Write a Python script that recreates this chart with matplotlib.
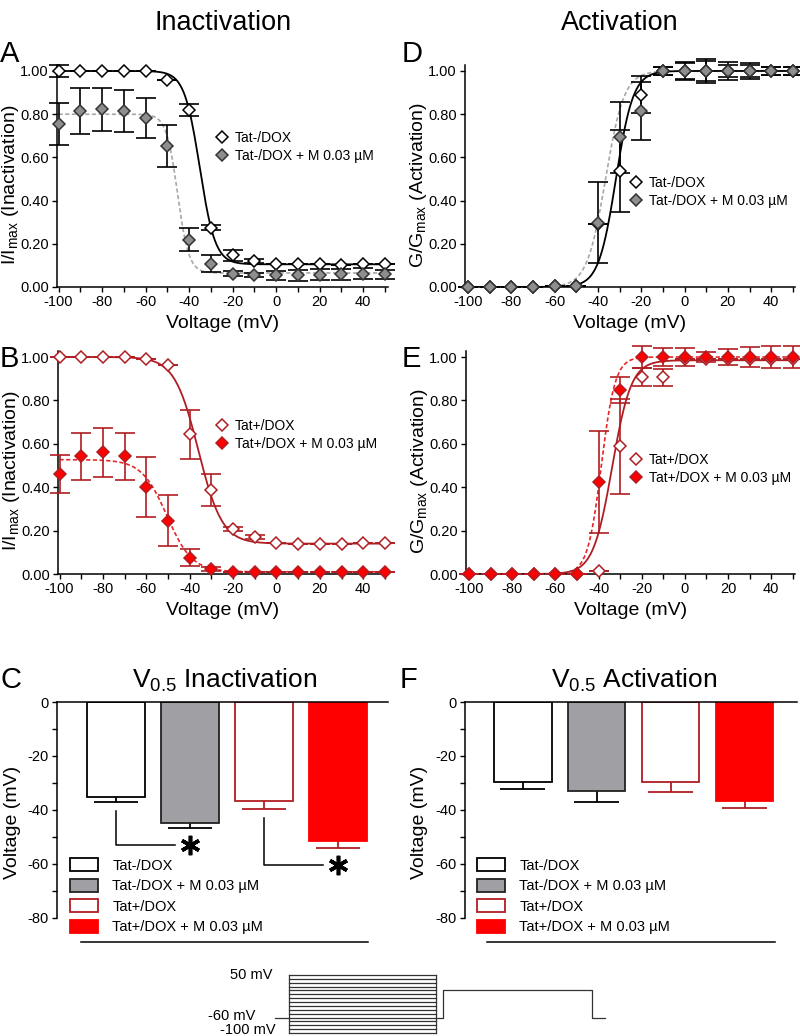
import numpy as np
import matplotlib
matplotlib.use("Agg")
import matplotlib.pyplot as plt
from matplotlib.ticker import MultipleLocator, FormatStrFormatter


plt.rcParams["font.family"] = ["Liberation Sans", "DejaVu Sans"]
plt.rcParams["axes.unicode_minus"] = False
plt.rcParams["mathtext.fontset"] = "custom"
plt.rcParams["mathtext.rm"] = "Liberation Sans"
plt.rcParams["mathtext.it"] = "Liberation Sans:italic"

W, H = 800, 1036

DARK_RED = "#b01e23"
RED = "#ff0000"
GREY_FILL = "#8e8e8e"
GREY_LINE = "#a8a8a8"

VOLTAGES = list(range(-100, 60, 10))

# A: inactivation, Tat-/DOX
inact_neg = [1.00, 1.00, 1.00, 1.00, 1.00, 0.96, 0.818, 0.275, 0.147, 0.12, 0.108, 0.105, 0.105, 0.10, 0.105, 0.105]
inact_neg_err = [0.03, 0, 0, 0, 0, 0, 0.028, 0.01, 0.025, 0.01, 0, 0, 0, 0, 0, 0]
inact_neg_m = [0.756, 0.815, 0.822, 0.815, 0.782, 0.653, 0.219, 0.108, 0.062, 0.057, 0.054, 0.054, 0.057, 0.059, 0.062, 0.059]
inact_neg_m_err = [0.097, 0.105, 0.10, 0.098, 0.094, 0.099, 0.053, 0.04, 0.01, 0.01, 0.02, 0.025, 0.025, 0.025, 0.025, 0.02]

# B: inactivation, Tat+/DOX
inact_pos = [1.00, 1.00, 1.00, 0.998, 0.99, 0.962, 0.645, 0.388, 0.206, 0.169, 0.142, 0.137, 0.137, 0.137, 0.142, 0.142]
inact_pos_err = [0, 0, 0, 0, 0, 0, 0.113, 0.075, 0.01, 0.01, 0, 0, 0, 0, 0, 0]
inact_pos_m = [0.46, 0.542, 0.56, 0.542, 0.40, 0.245, 0.075, 0.022, 0.01, 0.01, 0.01, 0.01, 0.01, 0.01, 0.01, 0.01]
inact_pos_m_err = [0.088, 0.109, 0.115, 0.11, 0.138, 0.118, 0.04, 0.01, 0, 0, 0, 0, 0, 0, 0, 0]

# D: activation, Tat-/DOX
act_neg = [0, 0, 0, 0, 0.005, 0.005, 0.29, 0.537, 0.89, 1.0, 1.0, 1.0, 1.0, 1.0, 1.0, 1.0]
act_neg_err = [0, 0, 0, 0, 0, 0, 0, 0.19, 0.085, 0.02, 0.04, 0.055, 0.04, 0.035, 0.02, 0.02]
act_neg_m = [0, 0, 0, 0, 0.005, 0.005, 0.298, 0.693, 0.816, 1.0, 1.0, 1.0, 1.0, 1.0, 1.0, 1.0]
act_neg_m_err = [0, 0, 0, 0, 0, 0, 0.187, 0.165, 0.135, 0.02, 0.037, 0.045, 0.03, 0.03, 0.02, 0.02]

# E: activation, Tat+/DOX
act_pos = [0, 0, 0, 0, 0, 0, 0.015, 0.588, 0.908, 0.906, 0.99, 0.99, 0.99, 0.99, 0.99, 0.99]
act_pos_err = [0, 0, 0, 0, 0, 0, 0, 0.22, 0.04, 0.04, 0, 0, 0, 0, 0, 0]
act_pos_m = [0, 0, 0, 0, 0, 0, 0.426, 0.849, 1.0, 1.0, 1.0, 1.0, 1.0, 1.0, 1.0, 1.0]
act_pos_m_err = [0, 0, 0, 0, 0, 0, 0.235, 0.06, 0.05, 0.04, 0.04, 0.025, 0.035, 0.045, 0.05, 0.05]

# Boltzmann fits: (top, bottom, V half, slope); negative slope = activation
fit_inact_neg = (1.0, 0.105, -35.1, 3.55)
fit_inact_neg_m = (0.80, 0.065, -45.3, 2.6)
fit_inact_pos = (1.0, 0.14, -36.0, 5.5)
fit_inact_pos_m = (0.527, 0.01, -50.5, 5.8)
fit_act_neg = (1.0, 0.0, -31.7, -4.0)
fit_act_neg_m = (1.0, 0.0, -36.5, -4.3)
fit_act_pos = (0.985, 0.0, -33.7, -4.4)
fit_act_pos_m = (1.0, 0.0, -38.7, -3.2)

# C / F: V0.5 bars
bar_labels = ["Tat-/DOX", "Tat-/DOX + M 0.03 µM", "Tat+/DOX", "Tat+/DOX + M 0.03 µM"]
v05_inact = [-35.2, -44.9, -36.7, -51.5]
v05_inact_err = [1.8, 1.8, 2.9, 2.5]
v05_act = [-29.6, -33.0, -29.6, -36.7]
v05_act_err = [2.6, 4.0, 3.7, 2.6]
sig_pairs = [(0, 1), (2, 3)]

bar_face = ["white", "#a0a0a4", "white", RED]
bar_edge = ["black", "#222222", DARK_RED, RED]
bar_err_col = ["black", "black", DARK_RED, DARK_RED]

# protocol
prepulse_mV = VOLTAGES
hold_mV = -60
test_mV = 10
protocol_t = [0, 14, 161, 168, 317, 330]


def px_rect(left, top, right, bottom):
    return [left / W, 1 - bottom / H, (right - left) / W, (bottom - top) / H]


def boltzmann(v, params):
    top, bottom, vh, k = params
    return bottom + (top - bottom) / (1 + np.exp((v - vh) / k))


def style_line_axes(ax, xlim, ylabel):
    ax.set_xlim(*xlim)
    ax.set_ylim(0, 1.03)
    for side in ["top", "right"]:
        ax.spines[side].set_visible(False)
    for side in ["left", "bottom"]:
        ax.spines[side].set_linewidth(1.1)
    ax.xaxis.set_major_locator(MultipleLocator(20))
    ax.xaxis.set_minor_locator(MultipleLocator(10))
    ax.yaxis.set_major_locator(MultipleLocator(0.2))
    ax.yaxis.set_major_formatter(FormatStrFormatter("%.2f"))
    ax.tick_params(which="both", direction="out", length=3.8, width=1, labelsize=10.5, pad=2)
    ax.set_xlabel("Voltage (mV)", fontsize=14)
    ax.set_ylabel(ylabel, fontsize=14)
    ax.xaxis.set_label_coords(0.5, -0.125)
    ax.yaxis.set_label_coords(-0.108, 0.46)


def line_panel(ax, series, fits, colors, labels, legend_xy):
    vfit = np.linspace(-100, 50, 400)
    (open_y, open_err), (fill_y, fill_err) = series
    line_col, fill_col, edge_col, dash_col, err_col = colors

    ax.plot(vfit, boltzmann(vfit, fits[1]), color=dash_col, lw=1.2, ls=(0, (2.5, 1.5)), zorder=2)
    ax.plot(vfit, boltzmann(vfit, fits[0]), color=line_col, lw=1.3, zorder=2)

    ax.errorbar(VOLTAGES, open_y, yerr=open_err, fmt="none", ecolor=err_col,
                elinewidth=1.2, capsize=7, capthick=1.2, zorder=3, clip_on=False)
    ax.errorbar(VOLTAGES, fill_y, yerr=fill_err, fmt="none", ecolor=err_col,
                elinewidth=1.2, capsize=7, capthick=1.2, zorder=3, clip_on=False)
    h1, = ax.plot(VOLTAGES, open_y, "D", ms=6.2, mfc="white", mec=line_col, mew=1.1,
                  ls="none", zorder=4, clip_on=False, label=labels[0])
    h2, = ax.plot(VOLTAGES, fill_y, "D", ms=6.2, mfc=fill_col, mec=edge_col, mew=1.1,
                  ls="none", zorder=5, clip_on=False, label=labels[1])

    leg = ax.legend(handles=[h1, h2], loc="upper left",
                    bbox_to_anchor=(legend_xy[0] / W, 1 - legend_xy[1] / H),
                    bbox_transform=fig.transFigure, frameon=False, fontsize=10,
                    handlelength=1.0, handletextpad=0.45, labelspacing=0.3,
                    borderpad=0, borderaxespad=0, numpoints=1)
    leg.set_zorder(6)


def bar_panel(ax, values, errors, xlim, title, title_x, sig=None, legend_x=0):
    pos = np.arange(len(values))
    bars = []
    for i, v in enumerate(values):
        b = ax.bar(pos[i], v, width=0.78, color=bar_face[i], edgecolor=bar_edge[i],
                   linewidth=1.3, label=bar_labels[i], zorder=2)
        bars.append(b)
        low = v - errors[i]
        ax.vlines(pos[i], low, v, color=bar_err_col[i], lw=1.3, zorder=1)
        ax.hlines(low, pos[i] - 0.3, pos[i] + 0.3, color=bar_err_col[i], lw=1.3, zorder=1)

    if sig is not None:
        for a, b in sig:
            y0 = values[a] - errors[a] - 3.5
            y1 = values[b] - errors[b] - 6.5
            ax.plot([pos[a], pos[a], pos[b] - 0.2], [y0, y1, y1], color="black", lw=1.1)
            ax.plot(pos[b], y1, marker=(6, 2, 0), ms=14, mew=2.6, color="black")

    ax.set_xlim(*xlim)
    ax.set_ylim(-89, 0)
    ax.spines["right"].set_visible(False)
    for side in ["left", "top", "bottom"]:
        ax.spines[side].set_linewidth(1.1)
    ax.spines["left"].set_bounds(-80, 0)
    ax.spines["bottom"].set_bounds(-0.48, 3.41)
    ax.set_xticks([])
    ax.yaxis.set_major_locator(MultipleLocator(20))
    ax.yaxis.set_minor_locator(MultipleLocator(10))
    ax.tick_params(which="both", direction="out", length=3.8, width=1, labelsize=10.5, pad=2)
    ax.set_ylabel("Voltage (mV)", fontsize=14)
    ax.yaxis.set_label_coords(-0.11, 0.5)

    ax.legend(handles=[b for b in bars], loc="upper left",
              bbox_to_anchor=(legend_x / W, 1 - 858 / H),
              bbox_transform=fig.transFigure, frameon=False, fontsize=10.5,
              handlelength=1.95, handleheight=1.0, handletextpad=0.95,
              labelspacing=0.42, borderpad=0, borderaxespad=0)

    fig.text(title_x / W, 1 - 688 / H, title, ha="center", va="baseline", fontsize=19)


fig = plt.figure(figsize=(W / 100, H / 100), dpi=100)

fig.text(223 / W, 1 - 30 / H, "Inactivation", ha="center", va="baseline", fontsize=19.5)
fig.text(620 / W, 1 - 30 / H, "Activation", ha="center", va="baseline", fontsize=19.5)

for letter, x, y in [("A", 0, 62), ("D", 402, 62), ("B", 0, 367), ("E", 402, 367),
                     ("C", 0, 688), ("F", 400, 688)]:
    fig.text(x / W, 1 - y / H, letter, ha="left", va="baseline", fontsize=21)

ax_a = fig.add_axes(px_rect(57, 64.5, 388, 287))
line_panel(ax_a, [(inact_neg, inact_neg_err), (inact_neg_m, inact_neg_m_err)],
           [fit_inact_neg, fit_inact_neg_m],
           ["black", GREY_FILL, "#333333", GREY_LINE, "black"],
           ["Tat-/DOX", "Tat-/DOX + M 0.03 µM"], (215, 131))
style_line_axes(ax_a, (-100.7, 51.4), r"I/I$_{\mathrm{max}}$ (Inactivation)")

ax_d = fig.add_axes(px_rect(465, 64.5, 795, 287))
line_panel(ax_d, [(act_neg, act_neg_err), (act_neg_m, act_neg_m_err)],
           [fit_act_neg, fit_act_neg_m],
           ["black", GREY_FILL, "#333333", GREY_LINE, "black"],
           ["Tat-/DOX", "Tat-/DOX + M 0.03 µM"], (629, 176))
style_line_axes(ax_d, (-101.4, 51), r"G/G$_{\mathrm{max}}$ (Activation)")

ax_b = fig.add_axes(px_rect(58, 350.5, 388, 574))
line_panel(ax_b, [(inact_pos, inact_pos_err), (inact_pos_m, inact_pos_m_err)],
           [fit_inact_pos, fit_inact_pos_m],
           [DARK_RED, RED, DARK_RED, "#e8262a", DARK_RED],
           ["Tat+/DOX", "Tat+/DOX + M 0.03 µM"], (215, 419))
style_line_axes(ax_b, (-100.7, 51.4), r"I/I$_{\mathrm{max}}$ (Inactivation)")

ax_e = fig.add_axes(px_rect(466, 350.5, 795, 574))
line_panel(ax_e, [(act_pos, act_pos_err), (act_pos_m, act_pos_m_err)],
           [fit_act_pos, fit_act_pos_m],
           [DARK_RED, RED, DARK_RED, "#e8262a", DARK_RED],
           ["Tat+/DOX", "Tat+/DOX + M 0.03 µM"], (629, 453))
style_line_axes(ax_e, (-101.4, 51), r"G/G$_{\mathrm{max}}$ (Activation)")

ax_c = fig.add_axes(px_rect(57, 702, 388, 942))
bar_panel(ax_c, v05_inact, v05_inact_err, (-0.8, 3.68),
          r"V$_{\mathrm{0.5}}$ Inactivation", 225, sig=sig_pairs, legend_x=70)

ax_f = fig.add_axes(px_rect(465, 702, 797, 942))
bar_panel(ax_f, v05_act, v05_act_err, (-0.78, 3.71),
          r"V$_{\mathrm{0.5}}$ Activation", 634, legend_x=477)

# voltage protocol
ax_p = fig.add_axes(px_rect(275, 975, 605, 1033))
ax_p.set_xlim(protocol_t[0], protocol_t[-1])
ax_p.set_ylim(min(prepulse_mV), max(prepulse_mV))
ax_p.axis("off")
pc = "#333333"
for v in prepulse_mV:
    ax_p.plot([protocol_t[1], protocol_t[2]], [v, v], color=pc, lw=0.9, clip_on=False)
ax_p.plot([protocol_t[1], protocol_t[1]], [min(prepulse_mV), max(prepulse_mV)], color=pc, lw=0.9, clip_on=False)
ax_p.plot([protocol_t[2], protocol_t[2]], [min(prepulse_mV), max(prepulse_mV)], color=pc, lw=0.9, clip_on=False)
ax_p.plot([protocol_t[0], protocol_t[1]], [hold_mV, hold_mV], color=pc, lw=0.9, clip_on=False)
ax_p.plot([protocol_t[2], protocol_t[3], protocol_t[3], protocol_t[4], protocol_t[4], protocol_t[5]],
          [hold_mV, hold_mV, test_mV, test_mV, hold_mV, hold_mV], color=pc, lw=0.9, clip_on=False)
ax_p.text(protocol_t[0] - 2, max(prepulse_mV), "50 mV", ha="right", va="center", fontsize=10.5)
ax_p.text(protocol_t[0] - 20, hold_mV + 3, "-60 mV", ha="right", va="center", fontsize=10.5)
ax_p.text(protocol_t[0] + 1, min(prepulse_mV) + 7, "-100 mV", ha="right", va="center", fontsize=10.5)

fig.savefig("out.png", dpi=100)
